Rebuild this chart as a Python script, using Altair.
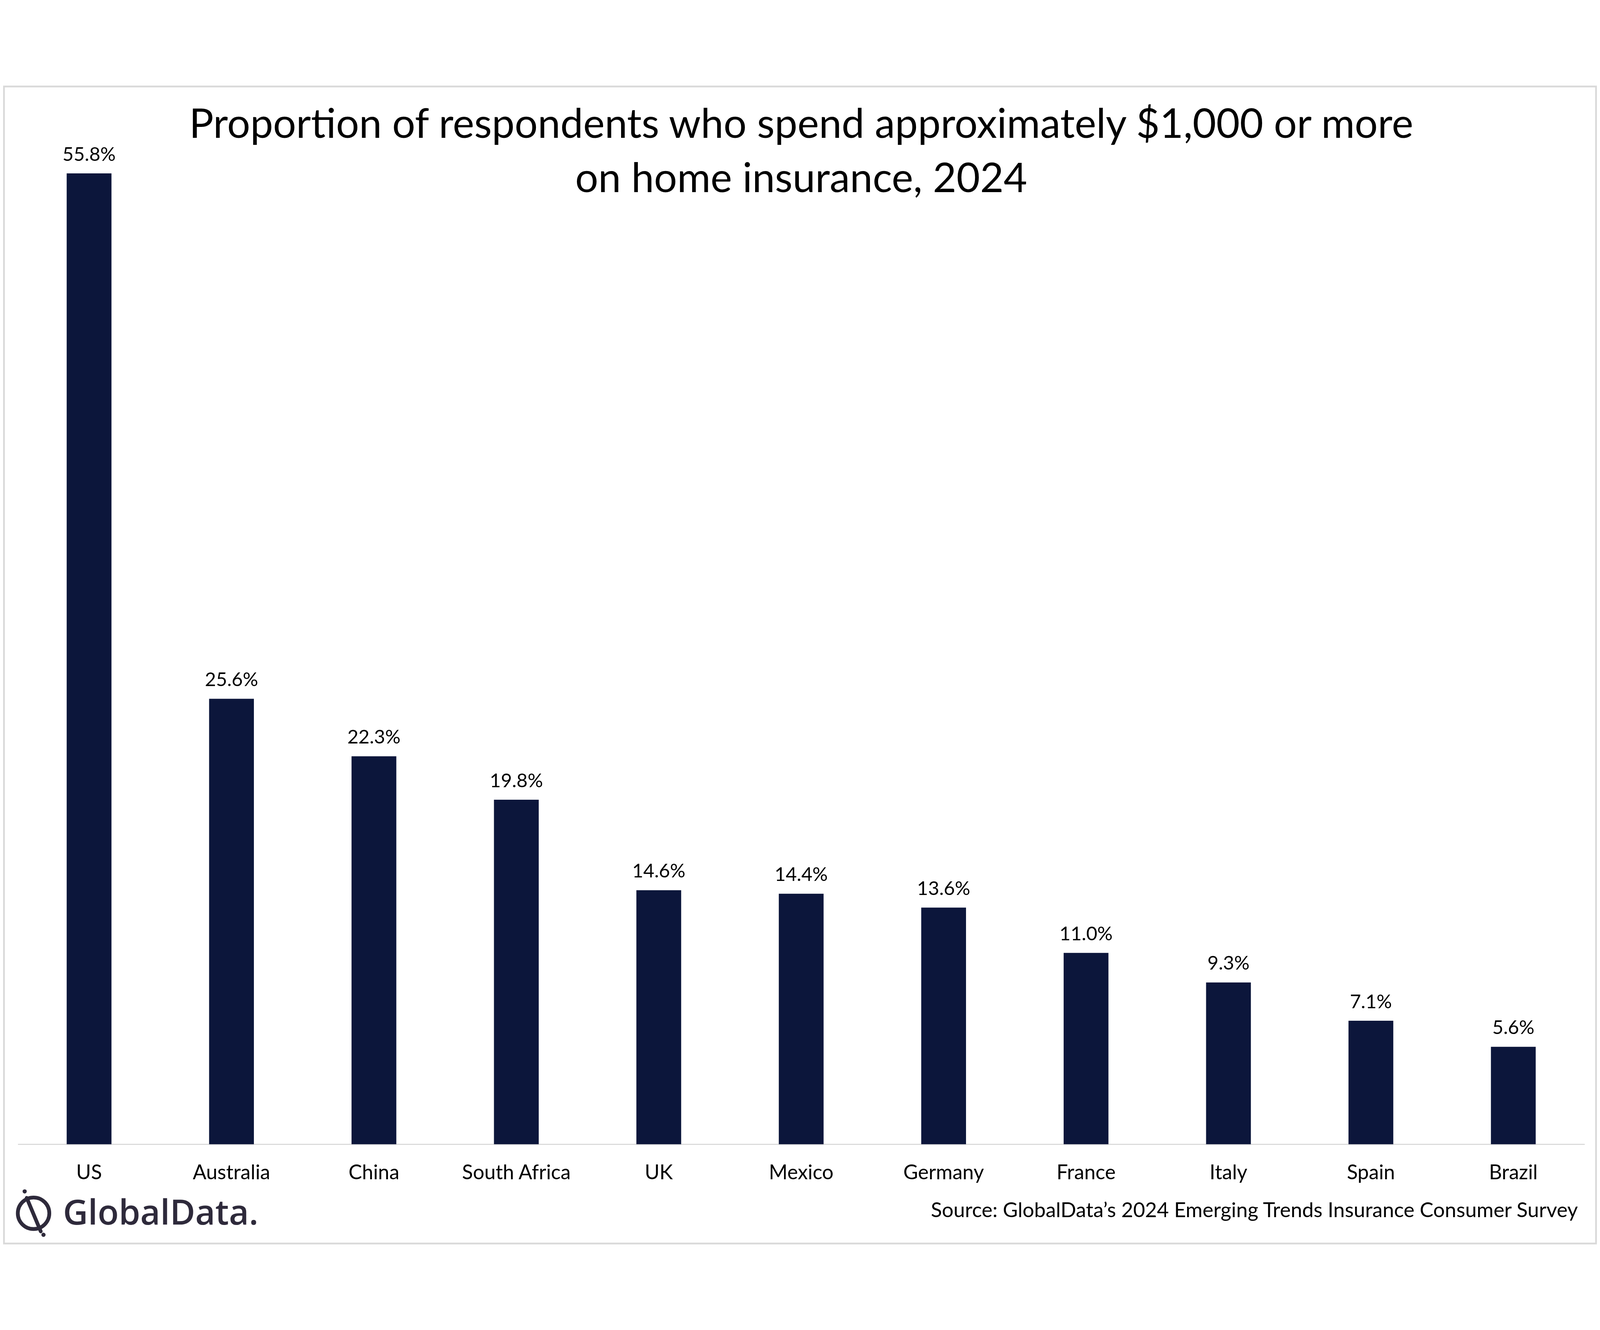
import altair as alt
import pandas as pd

countries = ["US", "Australia", "China", "South Africa", "UK", "Mexico",
             "Germany", "France", "Italy", "Spain", "Brazil"]
values = [55.8, 25.6, 22.3, 19.8, 14.6, 14.4, 13.6, 11.0, 9.3, 7.1, 5.6]
value_labels = [f"{v:.1f}%" for v in values]

title_lines = ["Proportion of respondents who spend approximately $1,000 or more",
               "on home insurance, 2024"]
source_text = "Source: GlobalData\u2019s 2024 Emerging Trends Insurance Consumer Survey"
logo_text = ["GlobalData."]

df = pd.DataFrame({"country": countries, "value": values, "label": value_labels})

W, H = 4582, 3054
PL, PT, PR, PB = 43, 43, 36, 293
FONT = "Lato"
BAR = "#0c163b"
LOGO = "#2e2a3b"

x_enc = alt.X(
    "country:N", sort=countries,
    scale=alt.Scale(paddingInner=0.6855, paddingOuter=0.343),
    axis=alt.Axis(
        title=source_text, labelAngle=0, ticks=False, tickSize=0, labelLimit=0,
        labelPadding=102, labelBaseline="alphabetic",
        labelFont=FONT, labelFontSize=59, labelColor="#000000",
        domainColor="#d9d9d9", domainWidth=3, grid=False,
        titleFont=FONT, titleFontSize=60, titleFontWeight="normal",
        titleColor="#000000", titleAlign="right", titleAnchor="end",
        titleBaseline="alphabetic", titleX=4562, titleY=213, titleLimit=0,
    ),
)
y_enc = alt.Y("value:Q", scale=alt.Scale(domain=[0, 60], nice=False), axis=None)

base = alt.Chart(df)
bars = base.mark_bar(color=BAR).encode(x=x_enc, y=y_enc)
texts = base.mark_text(font=FONT, fontSize=56, color="#000000", baseline="alphabetic",
                       dy=-37).encode(x=alt.X("country:N", sort=countries), y="value:Q",
                                      text="label:N")

# frame border (outermost element, defines the canvas)
border = alt.Chart(pd.DataFrame({"a": [0]})).mark_rect(
    fill=None, stroke="#d9d9d9", strokeWidth=5
).encode(x=alt.value(-PL + 2.5), x2=alt.value(W + PR - 2.5),
         y=alt.value(-PT + 2.5), y2=alt.value(H + PB - 2.5))

# logo
logo_df = pd.DataFrame({"t": logo_text})
logo_word = alt.Chart(logo_df).mark_text(
    font="Open Sans", fontSize=101, fontWeight=600, color=LOGO, align="left",
    baseline="alphabetic"
).encode(x=alt.value(132), y=alt.value(3289), text="t:N")
logo_ring = alt.Chart(logo_df).mark_point(
    shape="circle", filled=False, size=8500, stroke=LOGO, strokeWidth=11, opacity=1
).encode(x=alt.value(46), y=alt.value(3256))
logo_slash = alt.Chart(logo_df).mark_rule(color=LOGO, strokeWidth=11, strokeCap="round").encode(
    x=alt.value(26), y=alt.value(3211), x2=alt.value(67), y2=alt.value(3309))
logo_dots = alt.Chart(pd.DataFrame({"px": [20, 75], "py": [3192, 3319]})).mark_point(
    shape="circle", filled=True, size=150, color=LOGO, opacity=1
).encode(x=alt.X("px:Q", scale=None), y=alt.Y("py:Q", scale=None))

chart = alt.layer(border, bars, texts, logo_ring, logo_slash, logo_dots, logo_word).properties(
    width=W, height=H,
    padding=0,
    background="#ffffff",
    title=alt.TitleParams(
        text=title_lines, font=FONT, fontSize=119, fontWeight="normal", color="#000000",
        anchor="middle", frame="group", lineHeight=158, offset=-336,
    ),
).configure_view(stroke="transparent", strokeWidth=0, strokeOpacity=0)

chart.save("out.html", embed_options={"renderer": "svg", "actions": False})
